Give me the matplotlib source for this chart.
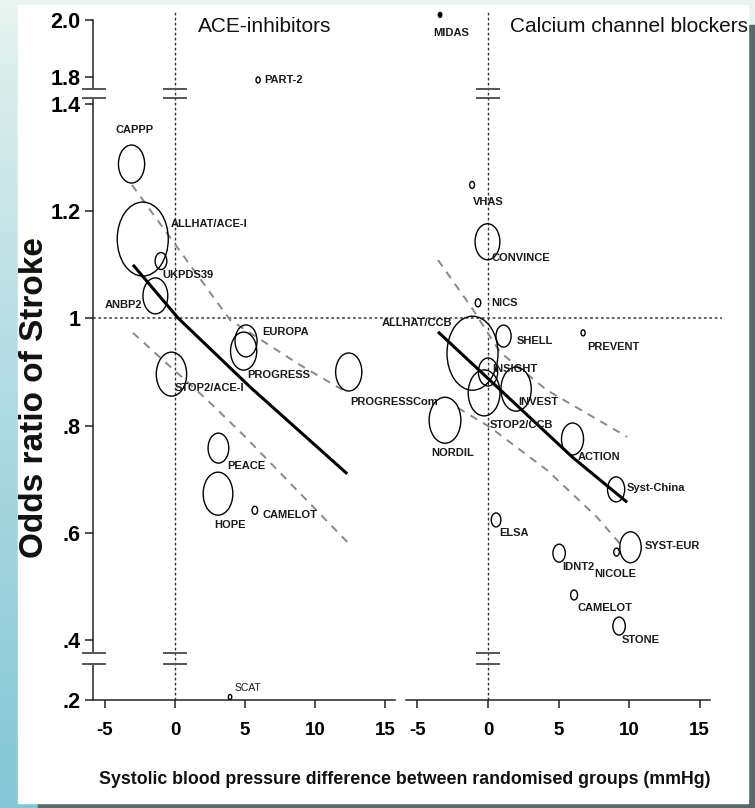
"""Stroke odds ratio vs. systolic BP difference: ACE-inhibitor and CCB trials
(meta-regression bubble plot with a broken odds-ratio axis)."""
import numpy as np
import matplotlib
matplotlib.use("Agg")
import matplotlib.pyplot as plt
from matplotlib.path import Path
from matplotlib.transforms import Affine2D
from matplotlib.patches import Rectangle

plt.rcParams["axes.unicode_minus"] = False

SANS = ["Liberation Sans", "DejaVu Sans"]

# ---------------------------------------------------------------- data
ace_names = ["CAPPP", "ALLHAT/ACE-I", "UKPDS39", "ANBP2", "EUROPA", "PROGRESS",
             "STOP2/ACE-I", "PROGRESSCom", "PEACE", "HOPE", "CAMELOT", "PART-2", "SCAT"]
ace_bp = [-3.1, -2.3, -1.0, -1.4, 5.07, 4.9, -0.25, 12.4, 3.1, 3.07, 5.7, 5.93, 3.93]
ace_or = [1.288, 1.148, 1.107, 1.042, 0.958, 0.939, 0.896, 0.900, 0.758, 0.673,
          0.642, 1.756, 0.21]
ace_weight = [38, 74, 17, 36, 32, 38, 44, 38, 30, 43, 8, 6, 5]

ace_fit_bp = [-3.0, 0.21, 5.36, 12.29]
ace_fit_or = [1.100, 1.001, 0.872, 0.710]
ace_hi_bp = [-3.07, 0.57, 3.93, 8.93, 12.0]
ace_hi_or = [1.249, 1.118, 0.997, 0.913, 0.866]
ace_lo_bp = [-3.0, 2.29, 4.86, 12.29]
ace_lo_or = [0.973, 0.848, 0.783, 0.583]

ccb_names = ["MIDAS", "VHAS", "CONVINCE", "NICS", "ALLHAT/CCB", "SHELL", "INSIGHT",
             "STOP2/CCB", "INVEST", "NORDIL", "PREVENT", "ACTION", "Syst-China",
             "SYST-EUR", "NICOLE", "IDNT2", "CAMELOT", "STONE", "ELSA"]
ccb_bp = [-3.4, -1.13, -0.04, -0.71, -1.1, 1.1, 0.0, -0.28, 1.99, -3.05, 6.74,
          5.99, 9.08, 10.1, 9.11, 5.04, 6.1, 9.29, 0.57]
ccb_or = [2.018, 1.249, 1.143, 1.029, 0.935, 0.967, 0.900, 0.861, 0.868, 0.810,
          0.973, 0.775, 0.681, 0.573, 0.564, 0.562, 0.484, 0.426, 0.624]
ccb_weight = [5, 7, 36, 8, 74, 22, 28, 46, 44, 46, 6, 32, 25, 31, 8, 18, 10, 18, 14]

ccb_fit_bp = [-3.55, 6.03, 9.86]
ccb_fit_or = [0.975, 0.740, 0.657]
ccb_hi_bp = [-3.55, -1.13, 0.85, 4.18, 9.86]
ccb_hi_or = [1.109, 1.019, 0.937, 0.866, 0.779]
ccb_lo_bp = [-2.13, 0.14, 4.18, 7.73, 9.57]
ccb_lo_or = [0.833, 0.797, 0.717, 0.629, 0.573]

y_ticks = [0.2, 0.4, 0.6, 0.8, 1.0, 1.2, 1.4, 1.8, 2.0]
y_ticklabels = [".2", ".4", ".6", ".8", "1", "1.2", "1.4", "1.8", "2.0"]
x_ticks = [-5, 0, 5, 10, 15]

# broken odds-ratio axis: compressed outer bands around a linear .4-1.4 band
SCALE_OR = [0.0, 0.2, 0.4, 1.4, 1.8, 2.0, 2.4]
SCALE_POS = [-60, 0, 60, 596, 623, 680, 794]
BREAKS = [(0.32, 0.357), (1.489, 1.622)]


def fwd(v):
    return np.interp(v, SCALE_OR, SCALE_POS)


def inv(p):
    return np.interp(p, SCALE_POS, SCALE_OR)


# label placement (offset in points, alignment), same order as the names
ace_label_pos = [(2.5, 24.5, "center"), (19.8, 10.8, "left"), (0.7, -10, "left"),
                 (-9.7, -6.5, "right"), (11.5, 6.5, "left"), (2.5, -17.3, "left"),
                 (2.5, -10, "left"), (1, -21.6, "left"), (6, -13, "left"),
                 (8.6, -22.7, "center"), (5.8, -3.2, "left"), (4.3, 0, "left"),
                 (3.6, 6.5, "left")]
ccb_label_pos = [(8, -13, "center"), (11.5, -12, "center"), (3.2, -11.9, "left"),
                 (9.4, 0, "left"), (-14.8, 21.6, "right"), (9.7, -3.6, "left"),
                 (2.9, 2.2, "left"), (4.3, -23, "left"), (1.4, -9.4, "left"),
                 (5.4, -23.8, "center"), (2.9, -10, "left"), (4, -13, "left"),
                 (7.9, 1, "left"), (10.4, 1, "left"), (-1, -15.8, "center"),
                 (2.2, -10, "left"), (2.2, -9.4, "left"), (2.2, -10, "left"),
                 (2.2, -9.4, "left")]

ELLIPSE = Affine2D().scale(1.0, 1.45).transform_path(Path.unit_circle())
XLIM = (-5.85, 15.7)
YLIM = (0.2, 2.03)
W, H = 755, 808


def fig_box(left, top, width, height):
    return [left / W, 1 - (top + height) / H, width / W, height / H]


fig = plt.figure(figsize=(W / 100, H / 100), dpi=100)

# slide backdrop
bg = fig.add_axes([0, 0, 1, 1], zorder=-10)
grad = np.linspace(0, 1, 200)[:, None, None]
top_c = np.array([0.92, 0.96, 0.94])
bot_c = np.array([0.52, 0.78, 0.84])
bg.imshow(top_c + (bot_c - top_c) * grad ** 0.8, aspect="auto", extent=[0, 1, 0, 1])
bg.add_patch(Rectangle((748 / W, 0), 7 / W, 1 - 25 / H, color="#566a6c"))
bg.add_patch(Rectangle((38 / W, 0), 1, 5 / H, color="#566a6c"))
bg.add_patch(Rectangle((18 / W, 5 / H), 730 / W, 798 / H, color="white"))
bg.set_xlim(0, 1)
bg.set_ylim(0, 1)
bg.axis("off")

ax_ace = fig.add_axes(fig_box(93, 11.45, 302, 688.55))
ax_ccb = fig.add_axes(fig_box(405.5, 11.45, 304, 688.55))


def draw_panel(ax, names, bp, odds, weight, label_pos, fit, hi, lo):
    ax.set_yscale("function", functions=(fwd, inv))
    ax.set_xlim(*XLIM)
    ax.set_ylim(*YLIM)
    ax.patch.set_alpha(0)
    for s in ("left", "top", "right"):
        ax.spines[s].set_visible(False)
    ax.spines["bottom"].set_linewidth(1.1)
    ax.spines["bottom"].set_color("#222222")

    ax.axvline(0, color="#333333", lw=1.0, ls=(0, (2, 1.6)), zorder=1)
    ax.axhline(1.0, color="#555555", lw=1.3, ls=(0, (1.5, 1.5)), zorder=1,
               xmax=1.04, clip_on=False)
    for b0, b1 in BREAKS:
        for yb in (b0, b1):
            ax.plot([-0.8, 0.8], [yb, yb], color="#555555", lw=1.4, zorder=2)

    ax.plot(hi[0], hi[1], color="#888888", lw=1.4, dashes=(4, 3.5), zorder=2)
    ax.plot(lo[0], lo[1], color="#888888", lw=1.4, dashes=(4, 3.5), zorder=2)
    ax.plot(fit[0], fit[1], color="black", lw=2.2, zorder=4, solid_capstyle="butt")

    sizes = (np.array(weight) * 0.72) ** 2
    faces = ["black" if n == "MIDAS" else "none" for n in names]
    ax.scatter(bp, odds, s=sizes, marker=ELLIPSE, facecolors=faces,
               edgecolors="black", linewidths=1.0, zorder=3)

    for n, x, y, (dx, dy, ha) in zip(names, bp, odds, label_pos):
        light = n == "SCAT"
        ax.annotate(n, (x, y), xytext=(dx, dy), textcoords="offset points",
                    ha=ha, va="center", fontsize=7.5 if light else 8,
                    family=SANS, fontweight="normal" if light else "bold",
                    color="#1a1a1a", zorder=5)

    ax.set_xticks(x_ticks)
    ax.set_xticklabels([str(t) for t in x_ticks], family=SANS,
                       fontweight="bold", fontsize=13.5)
    ax.tick_params(axis="x", length=6, width=1.1, pad=10, color="#222222")


draw_panel(ax_ace, ace_names, ace_bp, ace_or, ace_weight, ace_label_pos,
           (ace_fit_bp, ace_fit_or), (ace_hi_bp, ace_hi_or), (ace_lo_bp, ace_lo_or))
draw_panel(ax_ccb, ccb_names, ccb_bp, ccb_or, ccb_weight, ccb_label_pos,
           (ccb_fit_bp, ccb_fit_or), (ccb_hi_bp, ccb_hi_or), (ccb_lo_bp, ccb_lo_or))

# broken y axis on the left panel
ax_ace.set_yticks(y_ticks)
ax_ace.set_yticklabels(y_ticklabels, family=SANS, fontweight="bold", fontsize=15.5)
ax_ace.yaxis.set_minor_locator(matplotlib.ticker.NullLocator())
ax_ace.tick_params(axis="y", length=6, width=1.1, pad=3, color="#222222")
ytrans = ax_ace.get_yaxis_transform()
spine_runs = [(0.2, BREAKS[0][0]), (BREAKS[0][1], BREAKS[1][0]), (BREAKS[1][1], 2.0)]
for y0, y1 in spine_runs:
    ax_ace.plot([0, 0], [y0, y1], color="#222222", lw=1.1, transform=ytrans,
                clip_on=False, zorder=2)
for b0, b1 in BREAKS:
    for yb in (b0, b1):
        ax_ace.plot([-0.033, 0.04], [yb, yb], color="#555555", lw=1.4,
                    transform=ytrans, clip_on=False, zorder=2)

ax_ccb.set_yticks([])
ax_ccb.yaxis.set_minor_locator(matplotlib.ticker.NullLocator())

fig.text(198 / W, 1 - 26 / H, "ACE-inhibitors", family=SANS, fontsize=15,
         ha="left", va="center", color="#111111")
fig.text(510 / W, 1 - 26 / H, "Calcium channel blockers", family=SANS, fontsize=15,
         ha="left", va="center", color="#111111")
fig.text(405 / W, 1 - 780 / H,
         "Systolic blood pressure difference between randomised groups (mmHg)",
         family=SANS, fontweight="bold", fontsize=12.8, ha="center", va="center",
         color="#111111")
fig.text(35 / W, 1 - 398 / H, "Odds ratio of Stroke", family=SANS,
         fontweight="bold", fontsize=24, rotation=90, ha="center", va="center",
         color="#111111")

fig.savefig("out.png", dpi=100)
